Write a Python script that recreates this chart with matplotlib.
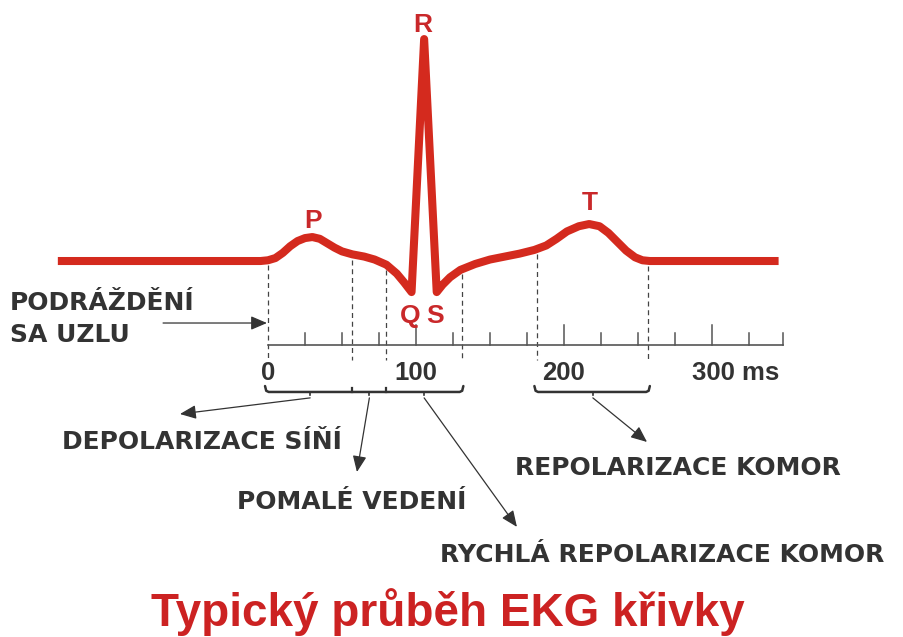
import numpy as np
import matplotlib
matplotlib.use("Agg")
import matplotlib.pyplot as plt

# ---------------- data ----------------
ecg_ms = [-142, -5, 0, 5, 10, 15, 20, 25, 30, 35, 40, 45, 50, 57, 65, 72, 80,
          87, 92, 97, 105.5, 114, 118, 123, 130, 140, 150, 160, 170, 180, 188,
          195, 202, 210, 217, 224, 230, 236, 242, 248, 253, 258, 345]
ecg_mv = [0, 0, 0.005, 0.02, 0.055, 0.10, 0.135, 0.155, 0.162, 0.15, 0.12, 0.09,
          0.065, 0.045, 0.03, 0.01, -0.025, -0.085, -0.145, -0.21, 1.50, -0.21,
          -0.16, -0.11, -0.06, -0.02, 0.01, 0.03, 0.05, 0.075, 0.105, 0.15, 0.2,
          0.235, 0.25, 0.235, 0.19, 0.13, 0.07, 0.025, 0.005, 0, 0]

wave_letters = ["P", "R", "Q", "S", "T"]
wave_letter_ms = [30.4, 104.7, 95.9, 112.8, 217.6]
wave_letter_mv = [0.223, 1.547, -0.419, -0.419, 0.345]

boundary_ms = [0, 57, 80, 131, 182, 257]          # dashed phase boundaries
tick_positions = [0, 100, 200, 300]
tick_labels = ["0", "100", "200", "300 ms"]
axis_end_ms = 348
minor_step = 25

bracket_groups = [[0, 57, 80, 131], [182, 257]]

phase_labels = ["DEPOLARIZACE SÍŇÍ", "POMALÉ VEDENÍ",
                "RYCHLÁ REPOLARIZACE KOMOR", "REPOLARIZACE KOMOR"]
title_text = "Typický průběh EKG křivky"
start_label = "PODRÁŽDĚNÍ\nSA UZLU"

# ---------------- style ----------------
RED = "#d42a1e"
RED_TXT = "#c9282a"
DARK = "#333333"

fig = plt.figure(figsize=(9.04, 6.37), dpi=100)
ax = fig.add_axes([0, 0, 1, 1])
ax.set_xlim(-181.08, 429.73)
ax.set_ylim(-2.541, 1.764)
ax.axis("off")

# ECG curve
ax.plot(ecg_ms, ecg_mv, color=RED, lw=5.8, solid_joinstyle="round",
        solid_capstyle="butt", zorder=5)

# wave letters
for s, x, y in zip(wave_letters, wave_letter_ms, wave_letter_mv):
    ax.text(x, y, s, color=RED_TXT, fontsize=19, fontweight="bold",
            family="Liberation Sans", ha="center", va="baseline", zorder=6)

# dashed boundaries
for b in boundary_ms:
    ytop = np.interp(b, ecg_ms, ecg_mv) - 0.035
    ax.plot([b, b], [ytop, -0.67], color="#444444", lw=0.9,
            ls=(0, (4, 3)), zorder=3)

# time axis
axis_y = -0.568
ax.plot([0, axis_end_ms], [axis_y, axis_y], color="#555555", lw=1.2, zorder=4)
for t in np.arange(minor_step, axis_end_ms + 1, minor_step):
    h = 0.135 if t % 100 == 0 else 0.081
    ax.plot([t, t], [axis_y, axis_y + h], color="#555555", lw=1.1, zorder=4)
ax.plot([axis_end_ms, axis_end_ms], [axis_y, axis_y + 0.081], color="#555555", lw=1.1)

for t, lab in zip(tick_positions, tick_labels):
    if lab.endswith("ms"):
        ax.text(t - 13.5, -0.804, lab, ha="left", va="baseline", fontsize=18.5,
                fontweight="bold", family="Liberation Sans", color=DARK)
    else:
        ax.text(t, -0.804, lab, ha="center", va="baseline", fontsize=18.5,
                fontweight="bold", family="Liberation Sans", color=DARK)

# brackets
by = -0.885
centers = []
for g in bracket_groups:
    x0, x1 = g[0] - 2, g[-1] + 1
    xs = [x0, x0 + 0.8, x0 + 2.5, x1 - 2.5, x1 - 0.8, x1]
    ys = [by + 0.04, by + 0.008, by, by, by + 0.008, by + 0.04]
    ax.plot(xs, ys, color=DARK, lw=1.8, solid_joinstyle="round",
            solid_capstyle="round", zorder=4)
    for d in g[1:-1]:
        ax.plot([d, d], [by, by + 0.03], color=DARK, lw=1.6)
    for a, b in zip(g[:-1], g[1:]):
        c = (a + b) / 2
        centers.append(c)
        ax.plot([c, c], [by, by - 0.018], color=DARK, lw=1.2)

# arrows from bracket centres to phase labels
arrow_ends = [(-59.5, -1.034), (60.1, -1.426), (168.2, -1.797), (256.1, -1.223)]
for c, (ex, ey) in zip(centers, arrow_ends):
    ax.annotate("", xy=(ex, ey), xytext=(c, by - 0.04),
                arrowprops=dict(arrowstyle="-|>,head_length=0.7,head_width=0.3",
                                color=DARK, lw=0.9, shrinkA=0, shrinkB=0,
                                mutation_scale=14))

label_pos = [(-139.2, -1.270), (-20.9, -1.676), (116.2, -2.034), (166.9, -1.446)]
for s, (x, y) in zip(phase_labels, label_pos):
    ax.text(x, y, s, ha="left", va="baseline", fontsize=18, fontweight="bold",
            family="DejaVu Sans", color=DARK)

# start label + arrow
ax.text(-174.3, -0.331, start_label.split("\n")[0], ha="left", va="baseline",
        fontsize=18, fontweight="bold", family="DejaVu Sans", color=DARK)
ax.text(-174.3, -0.547, start_label.split("\n")[1], ha="left", va="baseline",
        fontsize=18, fontweight="bold", family="DejaVu Sans", color=DARK)
ax.annotate("", xy=(-0.7, -0.419), xytext=(-70.9, -0.419),
            arrowprops=dict(arrowstyle="-|>,head_length=0.7,head_width=0.3",
                            color=DARK, lw=0.9, shrinkA=0, shrinkB=0,
                            mutation_scale=14))

# title
ax.text(121.6, -2.466, title_text, ha="center", va="baseline", fontsize=33,
        fontweight="bold", family="Liberation Sans", color="#cc2222")

fig.savefig("out.png", dpi=100)
